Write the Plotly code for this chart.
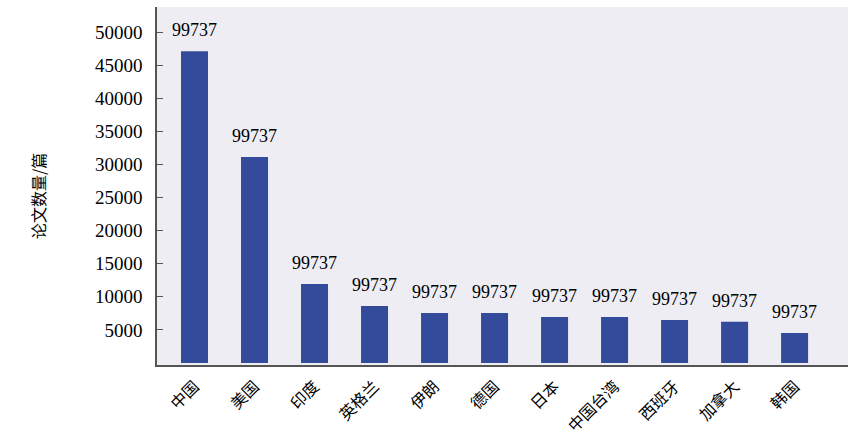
import plotly.graph_objects as go

countries = ["中国", "美国", "印度", "英格兰", "伊朗", "德国", "日本", "中国台湾", "西班牙", "加拿大", "韩国"]
papers = [47100, 31150, 11950, 8620, 7570, 7560, 6960, 6950, 6500, 6220, 4540]
bar_labels = ["99737"] * len(countries)
y_ticks = [5000, 10000, 15000, 20000, 25000, 30000, 35000, 40000, 45000, 50000]
y_tick_text = [str(v) for v in y_ticks]
y_title = "论文数量/篇"

serif = "Liberation Serif, Times New Roman, serif"
cjk = "Noto Sans CJK SC, sans-serif"

fig = go.Figure(go.Bar(
    x=countries, y=papers, width=0.45,
    marker=dict(color="#344A9A", line=dict(width=0)),
    hoverinfo="x+y",
))

for c, v, t in zip(countries, papers, bar_labels):
    fig.add_annotation(x=c, y=v, text=t, showarrow=False, yanchor="bottom",
                       yshift=9, font=dict(family=serif, size=18, color="black"))

# y-axis title placed as rotated text left of the tick labels
fig.add_annotation(xref="paper", yref="paper", x=(38 - 157) / 691, y=0.472,
                   text=y_title, textangle=-90, showarrow=False,
                   xanchor="center", yanchor="middle",
                   font=dict(family=cjk, size=16, color="black"))

fig.update_layout(
    width=850, height=441,
    margin=dict(l=157, r=2, t=7, b=76, autoexpand=False),
    paper_bgcolor="white", plot_bgcolor="#EDEDF3",
    showlegend=False,
    xaxis=dict(
        range=[-0.625, 10.89], tickangle=-45, showgrid=False, ticks="",
        showline=True, linecolor="#555555", linewidth=1.5,
        tickfont=dict(family=cjk, size=16, color="black"),
        ticklabelstandoff=4, automargin=False,
    ),
    yaxis=dict(
        range=[-300, 53800], tickvals=y_ticks, ticktext=y_tick_text,
        showgrid=False, zeroline=False,
        ticks="inside", ticklen=6, tickcolor="#555555", tickwidth=1,
        showline=True, linecolor="#555555", linewidth=1.5,
        tickfont=dict(family=serif, size=19, color="black"),
        ticklabelstandoff=9, automargin=False,
    ),
)

fig.write_html("out.html", config={"displayModeBar": False},
               post_script="document.body.style.margin='0px';")
